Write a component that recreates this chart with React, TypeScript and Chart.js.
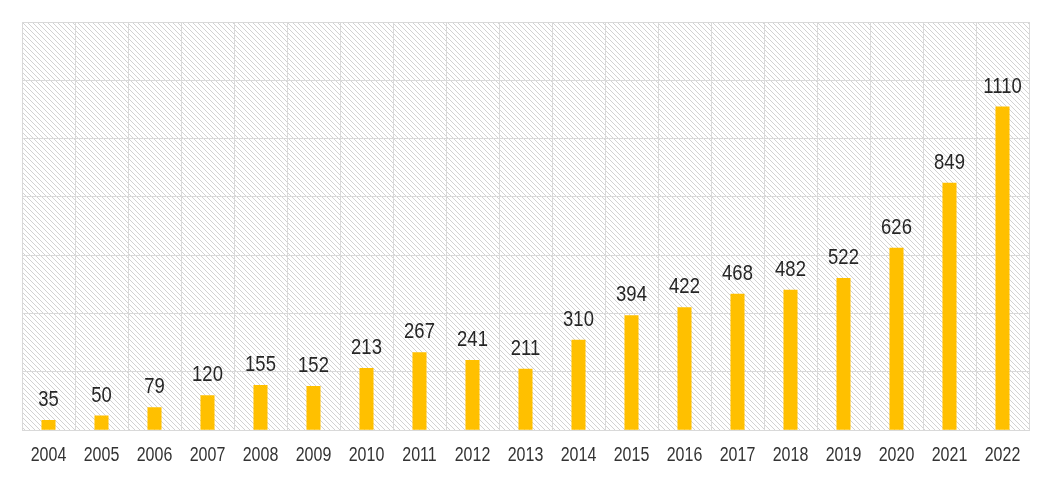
import React, { useEffect, useRef } from "react";
import { Chart, registerables } from "chart.js";

Chart.register(...registerables);

const years = ["2004","2005","2006","2007","2008","2009","2010","2011","2012","2013","2014","2015","2016","2017","2018","2019","2020","2021","2022"];
const counts = [35, 50, 79, 120, 155, 152, 213, 267, 241, 211, 310, 394, 422, 468, 482, 522, 626, 849, 1110];
const yMax = 1400;
const yStep = 200;

const FONT = "'Liberation Sans', Arial, sans-serif";
const NARROW = 0.82;

function makePattern(ctx: CanvasRenderingContext2D) {
  const s = 5;
  const c = document.createElement("canvas");
  c.width = s;
  c.height = s;
  const g = c.getContext("2d")!;
  g.fillStyle = "#ffffff";
  g.fillRect(0, 0, s, s);
  g.strokeStyle = "#d2d2d2";
  g.lineWidth = 1;
  g.beginPath();
  g.moveTo(-1, -1);
  g.lineTo(s + 1, s + 1);
  g.moveTo(-1, s - 1);
  g.lineTo(1, s + 1);
  g.moveTo(s - 1, -1);
  g.lineTo(s + 1, 1);
  g.stroke();
  return ctx.createPattern(c, "repeat");
}

function narrowText(ctx: CanvasRenderingContext2D, text: string, x: number, y: number) {
  ctx.save();
  ctx.translate(x, y);
  ctx.scale(NARROW, 1);
  ctx.fillText(text, 0, 0);
  ctx.restore();
}

const hatchPlugin = {
  id: "hatch",
  beforeDraw(chart: any) {
    const { ctx, chartArea } = chart;
    if (!chartArea) return;
    ctx.save();
    const p = makePattern(ctx);
    if (p) ctx.fillStyle = p;
    ctx.fillRect(chartArea.left, chartArea.top, chartArea.right - chartArea.left, chartArea.bottom - chartArea.top);
    ctx.restore();
  },
};

const labelPlugin = {
  id: "valueLabels",
  afterDraw(chart: any) {
    const { ctx, chartArea } = chart;
    const meta = chart.getDatasetMeta(0);
    const xs = chart.scales.x;
    ctx.save();
    ctx.fillStyle = "#262626";
    ctx.textAlign = "center";
    ctx.textBaseline = "alphabetic";
    ctx.font = `22.5px ${FONT}`;
    meta.data.forEach((bar: any, i: number) => {
      narrowText(ctx, String(counts[i]), bar.x, bar.y - 14);
    });
    ctx.font = `19.5px ${FONT}`;
    ctx.fillStyle = "#333333";
    years.forEach((y, i) => {
      narrowText(ctx, y, xs.getPixelForValue(i), chartArea.bottom + 31);
    });
    ctx.restore();
  },
};

export default function App() {
  const ref = useRef<HTMLCanvasElement | null>(null);
  useEffect(() => {
    document.body.style.margin = "0";
    const canvas = ref.current!;
    const chart = new Chart(canvas, {
      type: "bar",
      data: {
        labels: years,
        datasets: [
          {
            data: counts,
            backgroundColor: "#FFC000",
            borderWidth: 0,
            categoryPercentage: 1,
            barPercentage: 0.265,
          },
        ],
      },
      options: {
        animation: false,
        responsive: false,
        maintainAspectRatio: false,
        layout: { padding: { left: 22, right: 21, top: 22, bottom: 3 } },
        plugins: {
          legend: { display: false },
          tooltip: { enabled: false },
        },
        scales: {
          x: {
            offset: true,
            grid: { offset: true, color: "#d9d9d9", lineWidth: 1, drawTicks: false },
            border: { display: true, color: "#d9d9d9" },
            ticks: { color: "rgba(0,0,0,0)", font: { family: FONT, size: 19 }, padding: 11, maxRotation: 0, autoSkip: false },
          },
          y: {
            min: 0,
            max: yMax,
            ticks: { display: false, stepSize: yStep },
            grid: { color: "#d9d9d9", lineWidth: 1, drawTicks: false },
            border: { display: true, color: "#d9d9d9" },
          },
        },
      },
      plugins: [hatchPlugin, labelPlugin],
    });
    return () => chart.destroy();
  }, []);
  return (
    <div style={{ width: 1050, height: 478 }}>
      <canvas ref={ref} width={1050} height={478} style={{ display: "block", width: 1050, height: 478 }} />
    </div>
  );
}
